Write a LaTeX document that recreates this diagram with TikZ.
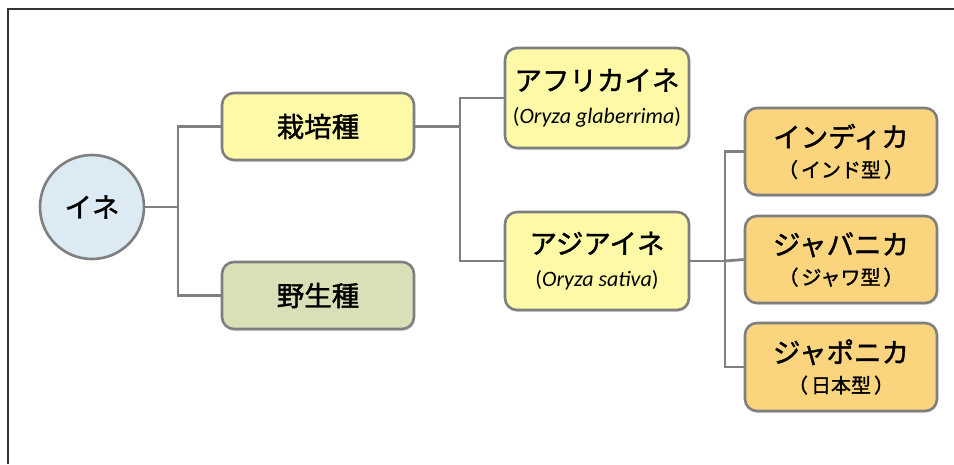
\documentclass[tikz,border=0pt]{standalone}
\usepackage{fontspec}
\setmainfont{Carlito}
\newfontfamily\jp[FakeBold=1.4]{Noto Sans CJK JP}
\usetikzlibrary{shadows}
\definecolor{edgegray}{HTML}{7F7F7F}
\definecolor{lineg}{HTML}{808080}
\definecolor{yel}{HTML}{FDF9A6}
\definecolor{olive}{HTML}{D9DFB6}
\definecolor{orng}{HTML}{FBD47E}
\definecolor{blu}{HTML}{DCEBF3}
\tikzset{
  boxb/.style={draw=edgegray, line width=2.6pt, rounded corners=12pt, align=center, inner sep=0pt,
    font=\jp\fontsize{27.5}{30}\selectfont,
    drop shadow={opacity=0.25, shadow xshift=1pt, shadow yshift=-2pt}},
  conn/.style={draw=lineg, line width=2.8pt},
}
\newcommand{\sub}[1]{{\rmfamily\fontsize{22}{24}\selectfont #1}}
\newcommand{\subj}[1]{{\fontsize{20}{23}\selectfont （\kern3pt #1\kern3pt）}}
\begin{document}
\begin{tikzpicture}[x=1pt,y=-1pt]
\useasboundingbox (0,0) rectangle (954,464);
\fill[white] (0,0) rectangle (954,464);
\draw[line width=1.6pt, black!80] (8,464) -- (8,9) -- (954,9);

\node[circle, draw=edgegray, line width=2.6pt, fill=blu, minimum size=104pt, inner sep=0pt,
  font=\jp\fontsize{27.5}{30}\selectfont] (ine) at (92,207) {イネ};

\node[boxb, fill=yel, minimum width=192pt, minimum height=67pt] (saibai) at (318,126.5) {栽培種};
\node[boxb, fill=olive, minimum width=192pt, minimum height=67pt] (yasei) at (318,295.5) {野生種};

\node[boxb, fill=yel, minimum width=184pt, minimum height=100pt] (africa) at (597,98)
  {アフリカイネ\\[3pt]\sub{(\textit{Oryza glaberrima})}};
\node[boxb, fill=yel, minimum width=184pt, minimum height=98pt] (asia) at (597,261)
  {アジアイネ\\[3pt]\sub{(\textit{Oryza sativa})}};

\node[boxb, fill=orng, minimum width=192pt, minimum height=87pt] (indica) at (841,151.5)
  {インディカ\\[0pt]\subj{インド型}};
\node[boxb, fill=orng, minimum width=192pt, minimum height=87pt] (javanica) at (841,259.5)
  {ジャバニカ\\[0pt]\subj{ジャワ型}};
\node[boxb, fill=orng, minimum width=192pt, minimum height=88pt] (japonica) at (841,367)
  {ジャポニカ\\[0pt]\subj{日本型}};

\coordinate (j1) at (178,207);
\coordinate (j2) at (460,126.5);
\coordinate (j3) at (725,261);

\draw[conn] (ine.east) -- (j1);
\draw[conn] (saibai.west) -| (j1) |- (yasei.west);
\draw[conn] (saibai.east) -- (j2);
\draw[conn] (africa.west) -| (j2) |- (asia.west);
\draw[conn] (asia.east) -- (j3);
\draw[conn] (indica.west) -| (j3) |- (japonica.west);
\draw[conn] (j3) -- (javanica.west);
\end{tikzpicture}
\end{document}
